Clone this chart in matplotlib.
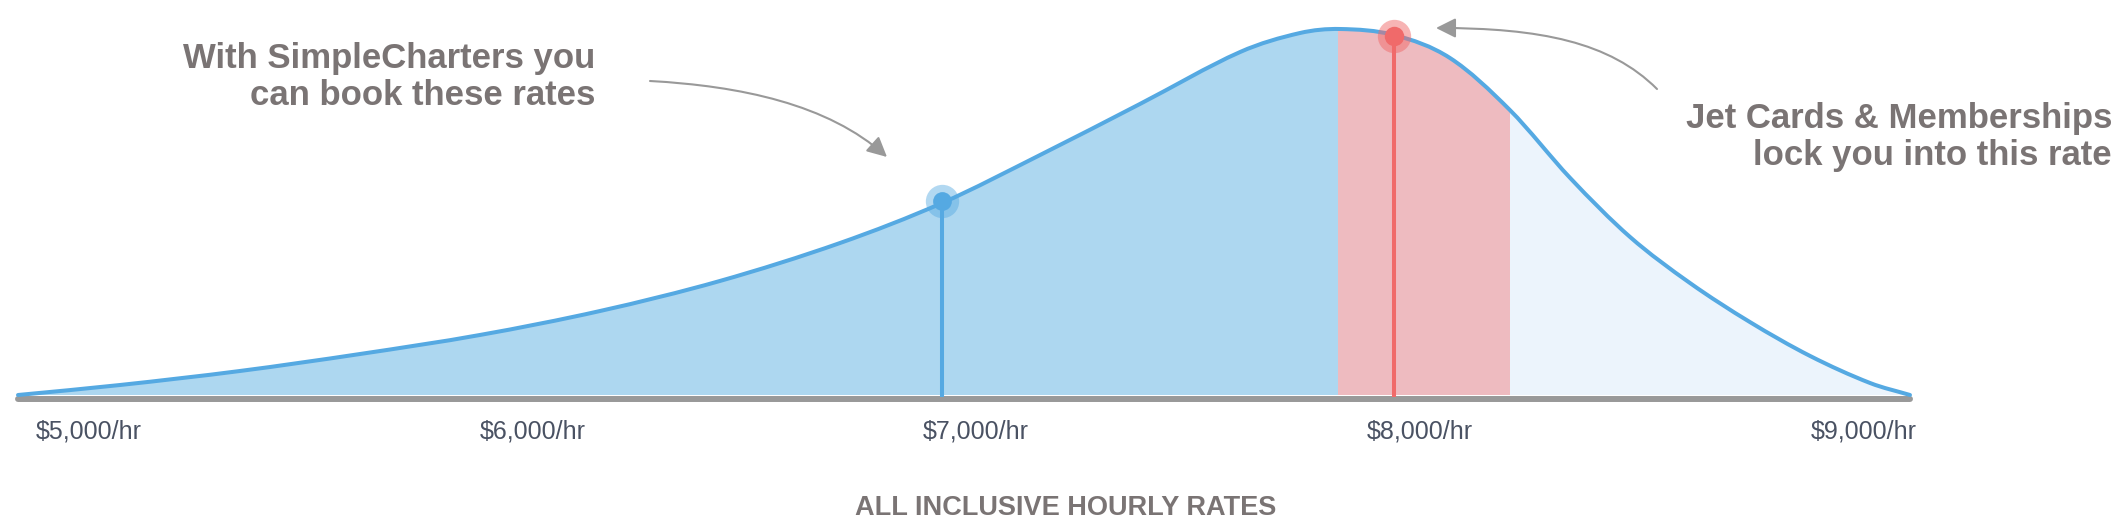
import numpy as np
import matplotlib
matplotlib.use("Agg")
import matplotlib.pyplot as plt
from matplotlib.path import Path
from matplotlib.patches import PathPatch, Rectangle, FancyArrowPatch

# ---------------- data ----------------
rate = [4840, 5070, 5340, 5611, 5881, 6152, 6422, 6693, 6923, 7144, 7369,
        7595, 7730, 7820, 7942, 8068, 8203, 8339, 8474, 8609, 8744, 8880,
        9015, 9105]
level = [0, 10, 24, 41, 60, 84, 114, 152, 192, 240, 291,
         343, 362, 366, 360, 337, 285, 217, 158, 112, 73, 39,
         12, 0]
tick_values = [5000, 6000, 7000, 8000, 9000]
tick_labels = ["\\$5,000/hr", "\\$6,000/hr", "\\$7,000/hr", "\\$8,000/hr", "\\$9,000/hr"]
simple_rate, simple_level = 6923, 194
member_rate, member_level = 7942, 359
band_start, band_end = 7816, 8203

# ---------------- style ----------------
plt.rcParams["font.family"] = ["Liberation Sans", "DejaVu Sans"]
LINE_BLUE = "#55A9E2"
FILL_BLUE = "#ADD7F0"
FILL_PINK = "#EEBBC0"
FILL_LIGHT = "#ECF4FC"
RED = "#F06A6A"
GREY = "#999999"
TEXT_GREY = "#7A7474"
TICK_COLOR = "#4A5263"

W, H = 2116, 524
fig = plt.figure(figsize=(W / 100, H / 100), dpi=100)
ax = fig.add_axes([0, 0, 1, 1])
ax.set_facecolor("white")

px_per_dollar = 0.4436
x_at_5000 = 89
ax.set_xlim(5000 - x_at_5000 / px_per_dollar, 5000 + (W - x_at_5000) / px_per_dollar)
ax.set_ylim(395 - H, 395)

# ---------------- curve path (Hermite through read points) ----------------
xs = np.asarray(rate, float)
ys = np.asarray(level, float)
n = len(xs)
m = np.empty(n)
m[1:-1] = (ys[2:] - ys[:-2]) / (xs[2:] - xs[:-2])
m[0] = (ys[1] - ys[0]) / (xs[1] - xs[0])
m[-1] = (ys[-1] - ys[-2]) / (xs[-1] - xs[-2])
verts = [(xs[0], ys[0])]
codes = [Path.MOVETO]
for i in range(n - 1):
    h = xs[i + 1] - xs[i]
    verts += [(xs[i] + h / 3, ys[i] + m[i] * h / 3),
              (xs[i + 1] - h / 3, ys[i + 1] - m[i + 1] * h / 3),
              (xs[i + 1], ys[i + 1])]
    codes += [Path.CURVE4] * 3
curve_path = Path(verts, codes)
area_path = Path(verts + [(xs[-1], 0), (xs[0], 0), (xs[0], 0)],
                 codes + [Path.LINETO, Path.LINETO, Path.CLOSEPOLY])

for (a, b, col) in [(xs[0], band_start, FILL_BLUE),
                    (band_start, band_end, FILL_PINK),
                    (band_end, xs[-1], FILL_LIGHT)]:
    patch = PathPatch(area_path, facecolor=col, edgecolor="none", zorder=1)
    ax.add_patch(patch)
    clip = Rectangle((a, -50), b - a, 600, transform=ax.transData)
    patch.set_clip_path(clip)

ax.add_patch(PathPatch(curve_path, facecolor="none", edgecolor=LINE_BLUE,
                       lw=2.9, zorder=3, capstyle="round"))

# vertical indicator lines and markers
ax.plot([simple_rate, simple_rate], [-2, simple_level], color=LINE_BLUE, lw=2.9,
        zorder=4, solid_capstyle="butt")
ax.plot([member_rate, member_rate], [-2, member_level], color=RED, lw=2.9,
        zorder=4, solid_capstyle="butt")
ax.plot([simple_rate], [simple_level], "o", ms=24, color=LINE_BLUE, alpha=0.45,
        mec="none", zorder=5)
ax.plot([simple_rate], [simple_level], "o", ms=13.5, color=LINE_BLUE, mec="none", zorder=6)
ax.plot([member_rate], [member_level], "o", ms=24, color=RED, alpha=0.5,
        mec="none", zorder=5)
ax.plot([member_rate], [member_level], "o", ms=14, color=RED, mec="none", zorder=6)

# axis line & ticks
for s in ["top", "left", "right"]:
    ax.spines[s].set_visible(False)
sp = ax.spines["bottom"]
sp.set_position(("data", -4))
sp.set_bounds(xs[0], xs[-1])
sp.set_linewidth(4.3)
sp.set_color(GREY)
sp.set_capstyle("round")
sp.set_zorder(2)
ax.set_yticks([])
ax.set_xticks(tick_values, tick_labels)
ax.tick_params(axis="x", length=0, pad=14.5, labelsize=18, labelcolor=TICK_COLOR)

# ---------------- annotation overlay (pixel coordinates) ----------------
ov = fig.add_axes([0, 0, 1, 1], facecolor="none")
ov.set_xlim(0, W)
ov.set_ylim(H, 0)
ov.axis("off")

txt = dict(color=TEXT_GREY, fontsize=25, fontweight="bold", ha="right", va="baseline")
ov.text(595, 68, "With SimpleCharters you", **txt)
ov.text(595, 105, "can book these rates", **txt)
ov.text(2112, 128, "Jet Cards & Memberships", **txt)
ov.text(2112, 165, "lock you into this rate", **txt)
ov.text(1066, 515, "ALL INCLUSIVE HOURLY RATES", color=TEXT_GREY, fontsize=19.5,
        fontweight="bold", ha="center", va="baseline")

arrow_kw = dict(arrowstyle="-|>,head_length=12,head_width=6", mutation_scale=1,
                color=GREY, lw=1.5, transform=ov.transData)
p1 = Path([(650, 81), (740, 86), (828, 104), (887, 157)],
          [Path.MOVETO, Path.CURVE4, Path.CURVE4, Path.CURVE4])
ov.add_patch(FancyArrowPatch(path=p1, **arrow_kw))
p2 = Path([(1657, 89), (1610, 42), (1540, 28), (1436, 28)],
          [Path.MOVETO, Path.CURVE4, Path.CURVE4, Path.CURVE4])
ov.add_patch(FancyArrowPatch(path=p2, **arrow_kw))

fig.savefig("out.png", dpi=100, facecolor="white")
